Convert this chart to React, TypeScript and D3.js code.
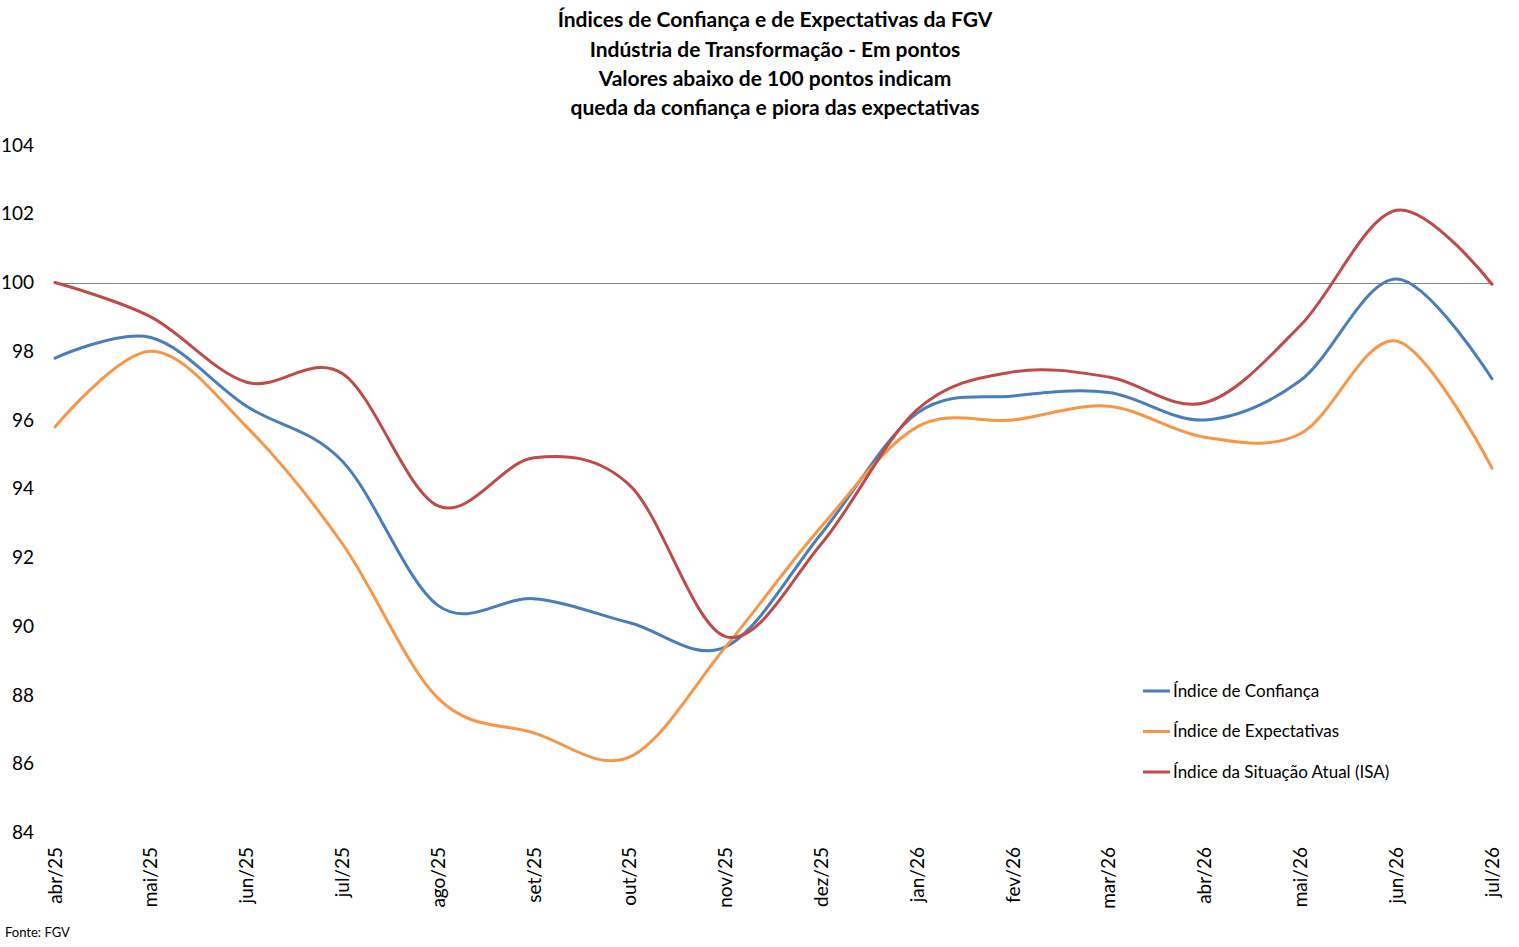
import { useEffect, useRef } from 'react';
import * as d3 from 'd3';

const months = [
  'abr/25', 'mai/25', 'jun/25', 'jul/25', 'ago/25', 'set/25', 'out/25', 'nov/25',
  'dez/25', 'jan/26', 'fev/26', 'mar/26', 'abr/26', 'mai/26', 'jun/26', 'jul/26',
];

const confianca = [97.8, 98.4, 96.4, 94.8, 90.6, 90.8, 90.1, 89.4, 92.7, 96.2, 96.7, 96.8, 96.0, 97.15, 100.1, 97.2];
const expectativas = [95.8, 98.0, 95.8, 92.4, 87.9, 86.9, 86.2, 89.4, 92.9, 95.8, 96.0, 96.4, 95.5, 95.6, 98.3, 94.6];
const situacaoAtual = [100.0, 99.0, 97.1, 97.35, 93.5, 94.9, 94.1, 89.7, 92.4, 96.3, 97.4, 97.25, 96.5, 98.75, 102.1, 99.95];

const yTicks = [84, 86, 88, 90, 92, 94, 96, 98, 100, 102, 104];

const titleLines = [
  'Índices de Confiança e de Expectativas da FGV',
  'Indústria de Transformação - Em pontos',
  'Valores abaixo de 100 pontos indicam',
  'queda da confiança e piora das expectativas',
];

const series = [
  { name: 'Índice de Confiança', values: confianca, color: '#4a7ebb' },
  { name: 'Índice de Expectativas', values: expectativas, color: '#f79646' },
  { name: 'Índice da Situação Atual (ISA)', values: situacaoAtual, color: '#be4b48' },
];

const W = 1519;
const H = 947;
const FONT = 'Lato, "Open Sans", sans-serif';

export default function App() {
  const svgRef = useRef<SVGSVGElement | null>(null);

  useEffect(() => {
    if (!svgRef.current) return;
    const svg = d3.select(svgRef.current);
    svg.selectAll('*').remove();

    const x = d3.scalePoint<string>().domain(months).range([55, 1492]);
    const y = d3.scaleLinear().domain([84, 104]).range([832.5, 145]);

    // title
    svg.append('g')
      .selectAll('text')
      .data(titleLines)
      .join('text')
      .attr('x', 775)
      .attr('y', (_, i) => 20 + i * 29.3)
      .attr('dy', '0.35em')
      .attr('text-anchor', 'middle')
      .attr('font-family', FONT)
      .attr('font-weight', 'bold')
      .attr('font-size', 21)
      .attr('fill', '#000')
      .text(d => d);

    // y axis labels
    svg.append('g')
      .selectAll('text')
      .data(yTicks)
      .join('text')
      .attr('x', 34)
      .attr('y', d => y(d))
      .attr('dy', '0.35em')
      .attr('text-anchor', 'end')
      .attr('font-family', FONT)
      .attr('font-size', 19)
      .attr('fill', '#000')
      .text(d => d);

    // 100 reference line
    svg.append('line')
      .attr('x1', x(months[0])!)
      .attr('x2', x(months[months.length - 1])!)
      .attr('y1', Math.round(y(100)) + 0.5)
      .attr('y2', Math.round(y(100)) + 0.5)
      .attr('stroke', '#868686')
      .attr('stroke-width', 1);

    // x labels
    svg.append('g')
      .selectAll('text')
      .data(months)
      .join('text')
      .attr('transform', d => `translate(${x(d)},847) rotate(-90)`)
      .attr('dy', '0.35em')
      .attr('text-anchor', 'end')
      .attr('font-family', FONT)
      .attr('font-size', 19)
      .attr('fill', '#000')
      .text(d => d);

    const line = d3.line<number>()
      .x((_, i) => x(months[i])!)
      .y(d => y(d))
      .curve(d3.curveCardinal.tension(0));

    svg.append('g')
      .selectAll('path')
      .data(series)
      .join('path')
      .attr('d', d => line(d.values))
      .attr('fill', 'none')
      .attr('stroke', d => d.color)
      .attr('stroke-width', 3)
      .attr('stroke-linecap', 'round');

    // legend
    const legend = svg.append('g')
      .selectAll('g')
      .data(series)
      .join('g')
      .attr('transform', (_, i) => `translate(1143,${691 + i * 40.5})`);
    legend.append('line')
      .attr('x1', 0).attr('x2', 27)
      .attr('stroke', d => d.color)
      .attr('stroke-width', 3);
    legend.append('text')
      .attr('x', 30)
      .attr('dy', '0.35em')
      .attr('font-family', FONT)
      .attr('font-size', 17)
      .attr('fill', '#000')
      .text(d => d.name);

    svg.append('text')
      .attr('x', 5)
      .attr('y', 932)
      .attr('dy', '0.35em')
      .attr('font-family', FONT)
      .attr('font-size', 13)
      .attr('fill', '#000')
      .text('Fonte: FGV');
  }, []);

  return (
    <svg
      ref={svgRef}
      width={W}
      height={H}
      style={{ position: 'absolute', left: 0, top: 0, background: '#fff' }}
    />
  );
}
